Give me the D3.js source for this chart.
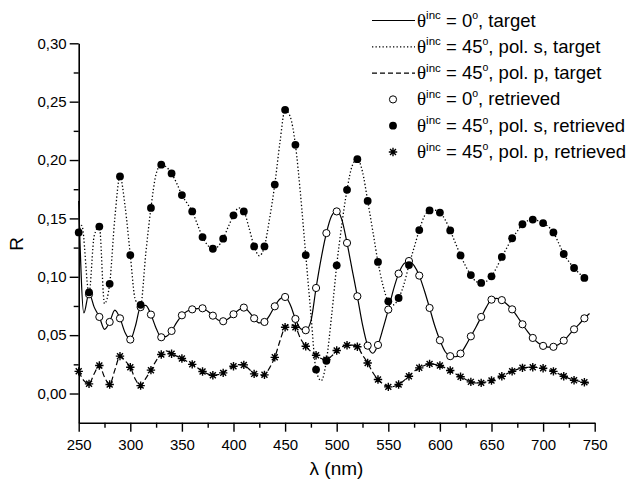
<!DOCTYPE html>
<html>
<head>
<meta charset="utf-8">
<script src="https://cdn.jsdelivr.net/npm/d3@7"></script>
<style>
  body { margin: 0; background: #fff; }
  svg { display: block; }
  text { font-family: "Liberation Sans", Arial, sans-serif; fill: #000; }
</style>
</head>
<body>
<div id="chart"></div>
<script>
// retrieved points, every 10 nm
const wlRet = [250,260,270,280,290,300,310,320,330,340,350,360,370,380,390,400,410,420,430,440,
  450,460,470,480,490,500,510,520,530,540,550,560,570,580,590,600,610,620,630,640,
  650,660,670,680,690,700,710,720,730,740];
const wlRet0 = wlRet.slice(1); // normal incidence points start at 260

const ret0 = [0.085,0.0656,0.0613,0.0644,0.0462,0.074,0.0676,0.0482,0.0536,0.067,
  0.0721,0.073,0.0667,0.0619,0.0679,0.0736,0.0644,0.0613,0.0747,0.0827,
  0.0639,0.0542,0.0904,0.1374,0.156,0.129,0.0833,0.041,0.0416,0.0719,
  0.1027,0.1135,0.101,0.0733,0.0456,0.032,0.0342,0.049,0.0656,0.0804,
  0.080,0.0721,0.0593,0.0476,0.0408,0.040,0.0453,0.055,0.0644];
const retS = [0.138,0.0867,0.143,0.094,0.186,0.1186,0.076,0.159,0.196,0.1885,
  0.170,0.156,0.134,0.124,0.1326,0.1526,0.156,0.126,0.126,0.179,
  0.243,0.213,0.1186,0.0205,0.028,0.1098,0.1745,0.2007,0.165,0.1127,
  0.079,0.0818,0.110,0.140,0.1568,0.155,0.1397,0.1183,0.1015,0.0947,
  0.1004,0.117,0.133,0.145,0.149,0.146,0.138,0.1195,0.1075,0.099];
const retP = [0.019,0.0083,0.024,0.0077,0.032,0.0225,0.0068,0.020,0.0334,0.034,
  0.030,0.025,0.0188,0.0157,0.0177,0.0234,0.0245,0.0168,0.016,0.031,
  0.0567,0.0567,0.0405,0.0328,0.029,0.0368,0.0413,0.040,0.0262,0.012,
  0.0057,0.0077,0.0148,0.022,0.0254,0.024,0.0197,0.0143,0.010,0.0091,
  0.0111,0.0148,0.019,0.022,0.0225,0.0217,0.019,0.0148,0.0114,0.0097];

// target curves
const wlT0 = [250,255,260,265,270,275,280,285,290,295,300,305,310,315,320,325,330,335,340,345,
  350,355,360,365,370,375,380,385,390,395,400,405,410,415,420,425,430,435,440,445,
  450,455,460,465,470,475,480,485,490,495,500,505,510,515,520,525,530,535,540,545,
  550,555,560,565,570,575,580,585,590,595,600,605,610,615,620,625,630,635,640,645,
  650,655,660,665,670,675,680,685,690,695,700,705,710,715,720,725,730,735,740,745];
const tgt0 = [0.165,0.069,0.086,0.074,0.0656,0.055,0.0613,0.0715,0.0644,0.052,
  0.0462,0.058,0.0745,0.0755,0.0676,0.056,0.0482,0.049,0.0536,0.061,
  0.067,0.0705,0.0721,0.0728,0.073,0.0705,0.0667,0.063,0.0619,0.064,
  0.0679,0.0715,0.0736,0.070,0.0644,0.0605,0.0613,0.067,0.0747,0.081,
  0.0827,0.076,0.0639,0.0555,0.0542,0.062,0.0904,0.116,0.1374,0.152,
  0.1565,0.149,0.129,0.106,0.0833,0.059,0.041,0.0345,0.0416,0.056,
  0.0719,0.089,0.1027,0.111,0.1135,0.1095,0.101,0.088,0.0733,0.058,
  0.0456,0.036,0.032,0.0315,0.0342,0.041,0.049,0.057,0.0656,0.074,
  0.0804,0.0815,0.080,0.0765,0.0721,0.066,0.0593,0.053,0.0476,0.0435,
  0.0408,0.0398,0.040,0.042,0.0453,0.050,0.055,0.0595,0.0644,0.0685];

const wlTS = [250,253,260,265,270,275,280,285,290,295,300,305,310,315,320,325,330,335,340,345,
  350,355,360,365,370,375,380,385,390,395,400,405,410,415,420,425,430,435,440,445,
  450,455,460,465,470,475,480,485,490,495,500,505,510,515,520,525,530,535,540,545,
  550,555,560,565,570,575,580,585,590,595,600,605,610,615,620,625,630,635,640,645,
  650,655,660,665,670,675,680,685,690,695,700,705,710,715,720,725,730,735,740];
const tgtS = [0.138,0.144,0.086,0.135,0.143,0.077,0.094,0.150,0.186,0.160,
  0.1186,0.080,0.076,0.120,0.159,0.188,0.196,0.194,0.1885,0.180,
  0.170,0.163,0.156,0.145,0.134,0.127,0.124,0.126,0.1326,0.143,
  0.1526,0.159,0.156,0.142,0.126,0.118,0.126,0.150,0.179,0.215,
  0.243,0.237,0.213,0.170,0.1186,0.068,0.020,0.011,0.028,0.066,
  0.1098,0.145,0.1745,0.195,0.2007,0.190,0.165,0.139,0.1127,0.092,
  0.079,0.076,0.0818,0.093,0.110,0.125,0.140,0.152,0.1568,0.157,
  0.155,0.149,0.1397,0.129,0.1183,0.109,0.1015,0.096,0.0947,0.096,
  0.1004,0.108,0.117,0.125,0.133,0.139,0.145,0.148,0.149,0.148,
  0.146,0.143,0.138,0.129,0.1195,0.113,0.1075,0.103,0.099];

const wlTP = wlT0;
const tgtP = [0.019,0.011,0.0083,0.017,0.024,0.014,0.0077,0.020,0.032,0.028,
  0.0225,0.012,0.0068,0.013,0.020,0.028,0.0334,0.0365,0.034,0.032,
  0.030,0.0275,0.025,0.022,0.0188,0.0168,0.0157,0.0162,0.0177,0.021,
  0.0234,0.0248,0.0245,0.021,0.0168,0.0152,0.016,0.022,0.031,0.045,
  0.0567,0.059,0.0567,0.047,0.0405,0.036,0.0328,0.030,0.029,0.032,
  0.0368,0.040,0.0413,0.0415,0.040,0.033,0.0262,0.018,0.012,0.008,
  0.0057,0.006,0.0077,0.011,0.0148,0.019,0.022,0.024,0.0254,0.025,
  0.024,0.022,0.0197,0.017,0.0143,0.012,0.010,0.009,0.0091,0.010,
  0.0111,0.013,0.0148,0.017,0.019,0.0207,0.022,0.0224,0.0225,0.0222,
  0.0217,0.0205,0.019,0.017,0.0148,0.013,0.0114,0.0105,0.0097,0.0088];

const xTicks = [250,300,350,400,450,500,550,600,650,700,750];
const yTicks = [0.00,0.05,0.10,0.15,0.20,0.25,0.30];

const legendRows = [
  {kind: "line", dash: null,  angle: "0", tail: ", target"},
  {kind: "line", dash: "1.3,2.2", angle: "45", tail: ", pol. s, target"},
  {kind: "line", dash: "5,3", angle: "45", tail: ", pol. p, target"},
  {kind: "open", angle: "0", tail: ", retrieved"},
  {kind: "filled", angle: "45", tail: ", pol. s, retrieved"},
  {kind: "star", angle: "45", tail: ", pol. p, retrieved"}
];

const W = 632, H = 487;
const x0 = 78.7, x1 = 594.7, yTop = 43.3, yBot = 422.7;

const svg = d3.select("#chart").append("svg")
  .attr("width", W).attr("height", H);

const x = d3.scaleLinear().domain([250, 750]).range([x0, x1]);
const y = d3.scaleLinear().domain([-0.025, 0.30]).range([yBot, yTop]);

// axes
const fmt = d => d3.format(".2f")(d).replace(".", ",");

const gx = svg.append("g").attr("transform", "translate(0," + yBot + ")");
gx.call(d3.axisBottom(x).tickValues(d3.range(275, 750, 50)).tickSize(5).tickFormat(""));
gx.call(g => g.select(".domain").remove());
gx.append("g").call(d3.axisBottom(x).tickValues(xTicks).tickSize(9).tickFormat(d => d).tickSizeOuter(0));

const gy = svg.append("g").attr("transform", "translate(" + x0 + ",0)");
gy.call(d3.axisLeft(y).tickValues(d3.range(0.025, 0.3, 0.05)).tickSize(5).tickFormat(""));
gy.call(g => g.select(".domain").remove());
gy.append("g").call(d3.axisLeft(y).tickValues(yTicks).tickSize(9).tickFormat(fmt).tickSizeOuter(0));

svg.selectAll(".domain").attr("stroke", "#000").attr("stroke-width", 1.6);
svg.selectAll(".tick line").attr("stroke", "#000").attr("stroke-width", 1.4);
svg.selectAll(".tick text").attr("font-size", 15).attr("fill", "#000")
  .attr("font-family", "Liberation Sans, Arial, sans-serif");
gx.selectAll(".tick text").attr("dy", "1.05em");
gy.selectAll(".tick text").attr("x", -12);

svg.append("text").attr("x", 336.5).attr("y", 475)
  .attr("text-anchor", "middle").attr("font-size", 19).text("λ (nm)");
svg.append("text").attr("transform", "translate(23,244) rotate(-90)")
  .attr("text-anchor", "middle").attr("font-size", 19).text("R");

// curves
const plot = svg.append("g");
const line = d3.line().x(d => x(d[0])).y(d => y(d[1])).curve(d3.curveMonotoneX);

plot.append("path").datum(d3.zip(wlT0, tgt0)).attr("d", line)
  .attr("fill", "none").attr("stroke", "#000").attr("stroke-width", 1.2);
plot.append("path").datum(d3.zip(wlTS, tgtS)).attr("d", line)
  .attr("fill", "none").attr("stroke", "#000").attr("stroke-width", 1.3)
  .attr("stroke-dasharray", "1.3,2.2");
plot.append("path").datum(d3.zip(wlTP, tgtP)).attr("d", line)
  .attr("fill", "none").attr("stroke", "#000").attr("stroke-width", 1.2)
  .attr("stroke-dasharray", "6,3");

// markers
const starPath = r => {
  const a = r * 0.7071;
  return "M" + (-r) + ",0L" + r + ",0M0," + (-r) + "L0," + r +
    "M" + (-a) + "," + (-a) + "L" + a + "," + a + "M" + (-a) + "," + a + "L" + a + "," + (-a);
};

function drawOpen(g, cx, cy) {
  g.append("circle").attr("cx", cx).attr("cy", cy).attr("r", 3.6)
    .attr("fill", "#fff").attr("stroke", "#000").attr("stroke-width", 1);
}
function drawFilled(g, cx, cy) {
  g.append("circle").attr("cx", cx).attr("cy", cy).attr("r", 3.9).attr("fill", "#000");
}
function drawStar(g, cx, cy) {
  g.append("path").attr("transform", "translate(" + cx + "," + cy + ")")
    .attr("d", starPath(4.2)).attr("stroke", "#000").attr("stroke-width", 1.4).attr("fill", "none");
}

const mk = plot.append("g");
wlRet.forEach((w, i) => drawStar(mk, x(w), y(retP[i])));
wlRet0.forEach((w, i) => drawOpen(mk, x(w), y(ret0[i])));
wlRet.forEach((w, i) => drawFilled(mk, x(w), y(retS[i])));

// legend
const lg = svg.append("g");
legendRows.forEach((r, i) => {
  const base = 26.5 + i * 26.3;
  const my = base - 6;
  if (r.kind === "line") {
    lg.append("line").attr("x1", 372).attr("x2", 415).attr("y1", my).attr("y2", my)
      .attr("stroke", "#000").attr("stroke-width", r.dash === "1.3,2.2" ? 1.3 : 1.2)
      .attr("stroke-dasharray", r.dash);
  } else if (r.kind === "open") {
    drawOpen(lg, 393, my);
  } else if (r.kind === "filled") {
    drawFilled(lg, 393, my);
  } else {
    drawStar(lg, 393, my);
  }
  const t = lg.append("text").attr("x", 417).attr("y", base).attr("font-size", 18.5);
  t.append("tspan").attr("font-family", "Liberation Serif, serif").attr("font-size", 19).text("θ");
  t.append("tspan").attr("font-size", 11.5).attr("dy", -7.5).text("inc");
  t.append("tspan").attr("dy", 7.5).text(" = " + r.angle);
  t.append("tspan").attr("font-size", 10.5).attr("dy", -8).text("o");
  t.append("tspan").attr("dy", 8).text(r.tail);
});
</script>
</body>
</html>
